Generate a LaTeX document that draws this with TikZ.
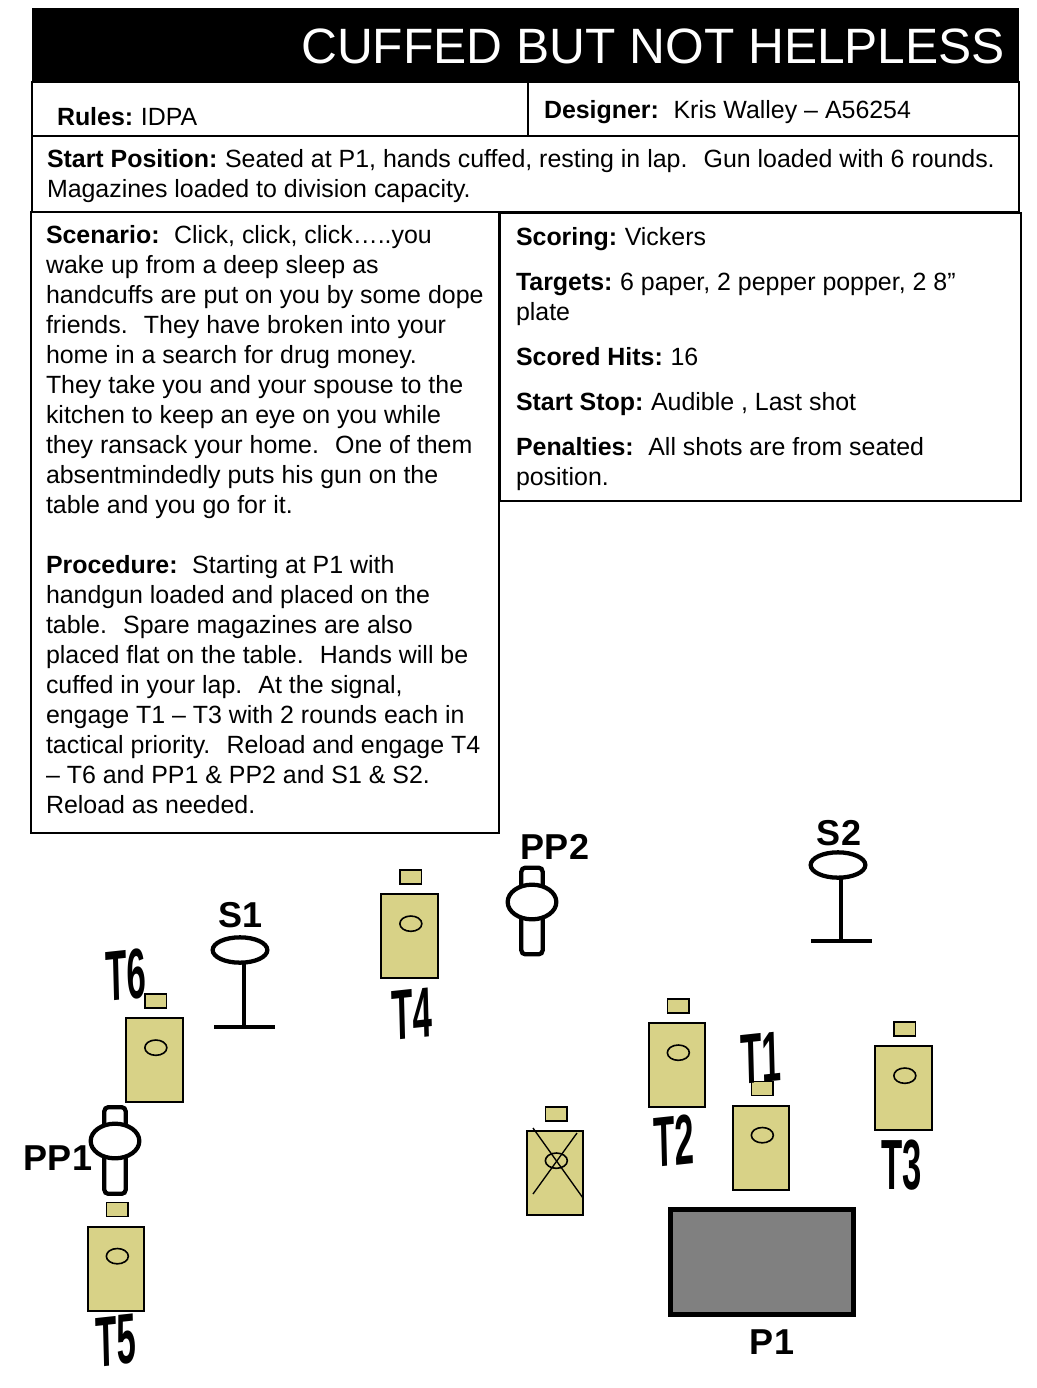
\documentclass[tikz,border=0pt]{standalone}
\usepackage{fontspec}
\setmainfont{Liberation Sans}
\usetikzlibrary{positioning,shapes.geometric}
\definecolor{tan}{HTML}{D8D287}
\definecolor{slab}{HTML}{808080}
\newcommand{\lab}[1]{\textbf{#1}\kern-1.2pt\relax}

\begin{document}
\begin{tikzpicture}[x=0.75pt,y=-0.75pt,
  every node/.style={inner sep=0pt,outer sep=0pt},
  panel/.style={draw=black,line width=1.5pt,fill=white},
  body/.style={font=\fontsize{18.7}{22.5}\selectfont,align=left,anchor=base west},
  paper/.style={draw=black,fill=tan,line width=1.5pt,minimum width=42.5pt,minimum height=63pt},
  tab/.style={draw=black,fill=tan,line width=1.2pt,minimum width=16pt,minimum height=10.5pt},
  hole/.style={draw=black,fill=tan,ellipse,line width=1.2pt,minimum width=16.5pt,minimum height=11.5pt},
  plate/.style={draw=black,fill=white,ellipse,line width=3.2pt,minimum width=41pt,minimum height=19pt},
  popper/.style={draw=black,fill=white,ellipse,line width=3.2pt,minimum width=36.5pt,minimum height=26pt},
  pole/.style={draw=black,fill=white,rounded corners=3pt,line width=3.2pt,minimum width=16pt,minimum height=65pt},
  stem/.style={line width=3.3pt},
  marktext/.style={font=\fontsize{27}{30}\bfseries\selectfont},
  tgtlabel/.style={font=\fontsize{26}{30}\bfseries\selectfont,yscale=2.05,rotate=3,transform shape}]
\useasboundingbox (0,0) rectangle (1036,1388);
% header
\node[fill=black,anchor=north west,minimum width=740.25pt,minimum height=55.5pt] (head) at (32,8) {};
\node[text=white,anchor=east,font=\fontsize{37.25}{40}\selectfont] (title) at (1005,46) {CUFFED BUT NOT HELPLESS};
\node[panel,anchor=north west,minimum width=372pt,minimum height=40.5pt] (rulesbox) at (32,82) {};
\node[panel,anchor=north west,minimum width=368.25pt,minimum height=40.5pt] (designbox) at (528,82) {};
\node[panel,anchor=north west,minimum width=740.25pt,minimum height=57pt] (startbox) at (32,136) {};
\node[panel,anchor=north west,minimum width=351pt,minimum height=465.75pt] (scenbox) at (31,212) {};
\node[panel,anchor=north west,minimum width=390.75pt,minimum height=216pt] (scorebox) at (500,213) {};
\node[body] (rules) at (57,125) {\lab{Rules:} IDPA};
\node[body] (design) at (544,118) {\lab{Designer:}~ Kris Walley – A56254};
\node[body] (start) at (47,197) {\lab{Start Position:} Seated at P1, hands cuffed, resting in lap.~ Gun loaded with 6 rounds.\\Magazines loaded to division capacity.};
\node[body] (scen) at (46,813) {\lab{Scenario:}~ Click, click, click…..you\\wake up from a deep sleep as\\handcuffs are put on you by some dope\\friends.~ They have broken into your\\home in a search for drug money.\\They take you and your spouse to the\\kitchen to keep an eye on you while\\they ransack your home.~ One of them\\absentmindedly puts his gun on the\\table and you go for it.\\[22.5pt]\lab{Procedure:}~ Starting at P1 with\\handgun loaded and placed on the\\table.~ Spare magazines are also\\placed flat on the table.~ Hands will be\\cuffed in your lap.~ At the signal,\\engage T1 – T3 with 2 rounds each in\\tactical priority.~ Reload and engage T4\\– T6 and PP1 \& PP2 and S1 \& S2.\\Reload as needed.};
\node[body] (score) at (516,485) {\lab{Scoring:} Vickers\\[11.25pt]\lab{Targets:} 6 paper, 2 pepper popper, 2 8”\\plate\\[11.25pt]\lab{Scored Hits:} 16\\[11.25pt]\lab{Start Stop:} Audible , Last shot\\[11.25pt]\lab{Penalties:}~ All shots are from seated\\position.};
% targets
\node[paper] (t1) at (761,1147.5) {};
\node[tab,above=7.5pt of t1.north,xshift=1pt] (t1tab) {};
\node[hole,below=16.5pt of t1.north,xshift=1pt] (t1hole) {};
\node[paper] (t2) at (677,1065) {};
\node[tab,above=7.5pt of t2.north,xshift=1pt] (t2tab) {};
\node[hole,below=16.5pt of t2.north,xshift=1pt] (t2hole) {};
\node[paper] (t3) at (903.5,1088) {};
\node[tab,above=7.5pt of t3.north,xshift=1pt] (t3tab) {};
\node[hole,below=16.5pt of t3.north,xshift=1pt] (t3hole) {};
\node[paper] (t4) at (409.5,936) {};
\node[tab,above=7.5pt of t4.north,xshift=1pt] (t4tab) {};
\node[hole,below=16.5pt of t4.north,xshift=1pt] (t4hole) {};
\node[paper] (t5) at (116,1268.5) {};
\node[tab,above=7.5pt of t5.north,xshift=1pt] (t5tab) {};
\node[hole,below=16.5pt of t5.north,xshift=1pt] (t5hole) {};
\node[paper] (t6) at (154.5,1060) {};
\node[tab,above=7.5pt of t6.north,xshift=1pt] (t6tab) {};
\node[hole,below=16.5pt of t6.north,xshift=1pt] (t6hole) {};
\node[paper] (ns) at (555,1173) {};
\node[tab,above=7.5pt of ns.north,xshift=1pt] (nstab) {};
\node[hole,below=16.5pt of ns.north,xshift=1pt] (nshole) {};
\draw[line width=1pt] (533,1128) -- (583,1198); \draw[line width=1pt] (577,1133) -- (533,1194);
\node[tgtlabel] (t1name) at (761,1058) {T1};
\node[tgtlabel] (t2name) at (674,1141) {T2};
\node[tgtlabel,rotate=-3] (t3name) at (902,1165) {T3};
\node[tgtlabel] (t4name) at (412,1014) {T4};
\node[tgtlabel] (t5name) at (116,1341) {T5};
\node[tgtlabel] (t6name) at (126,975) {T6};
% plates
\node[plate] (s1) at (240,950) {};
\coordinate (s1foot) at (244,1027);
\draw[stem] (s1.south -| s1foot) -- (s1foot); \draw[stem] ([xshift=-22.5pt]s1foot) -- ([xshift=23pt]s1foot);
\node[marktext,above=7pt of s1.north,xshift=0.75pt] (s1name) {S1};
\node[plate] (s2) at (838,865) {};
\coordinate (s2foot) at (841,941);
\draw[stem] (s2.south -| s2foot) -- (s2foot); \draw[stem] ([xshift=-22.5pt]s2foot) -- ([xshift=23pt]s2foot);
\node[marktext,above=5pt of s2.north,xshift=0.75pt] (s2name) {S2};
% poppers
\node[pole] (pp1pole) at (115,1150.5) {};
\node[popper] (pp1) at (115,1141) {};
\node[marktext] (pp1name) at (58,1158) {PP1};
\node[pole] (pp2pole) at (532,911) {};
\node[popper] (pp2) at (532,902) {};
\node[marktext] (pp2name) at (555,847) {PP2};
% table
\node[draw=black,fill=slab,line width=3.75pt,minimum width=137pt,minimum height=79pt] (p1box) at (762,1262) {};
\node[marktext] (p1) at (772,1342) {P1};
\end{tikzpicture}
\end{document}
